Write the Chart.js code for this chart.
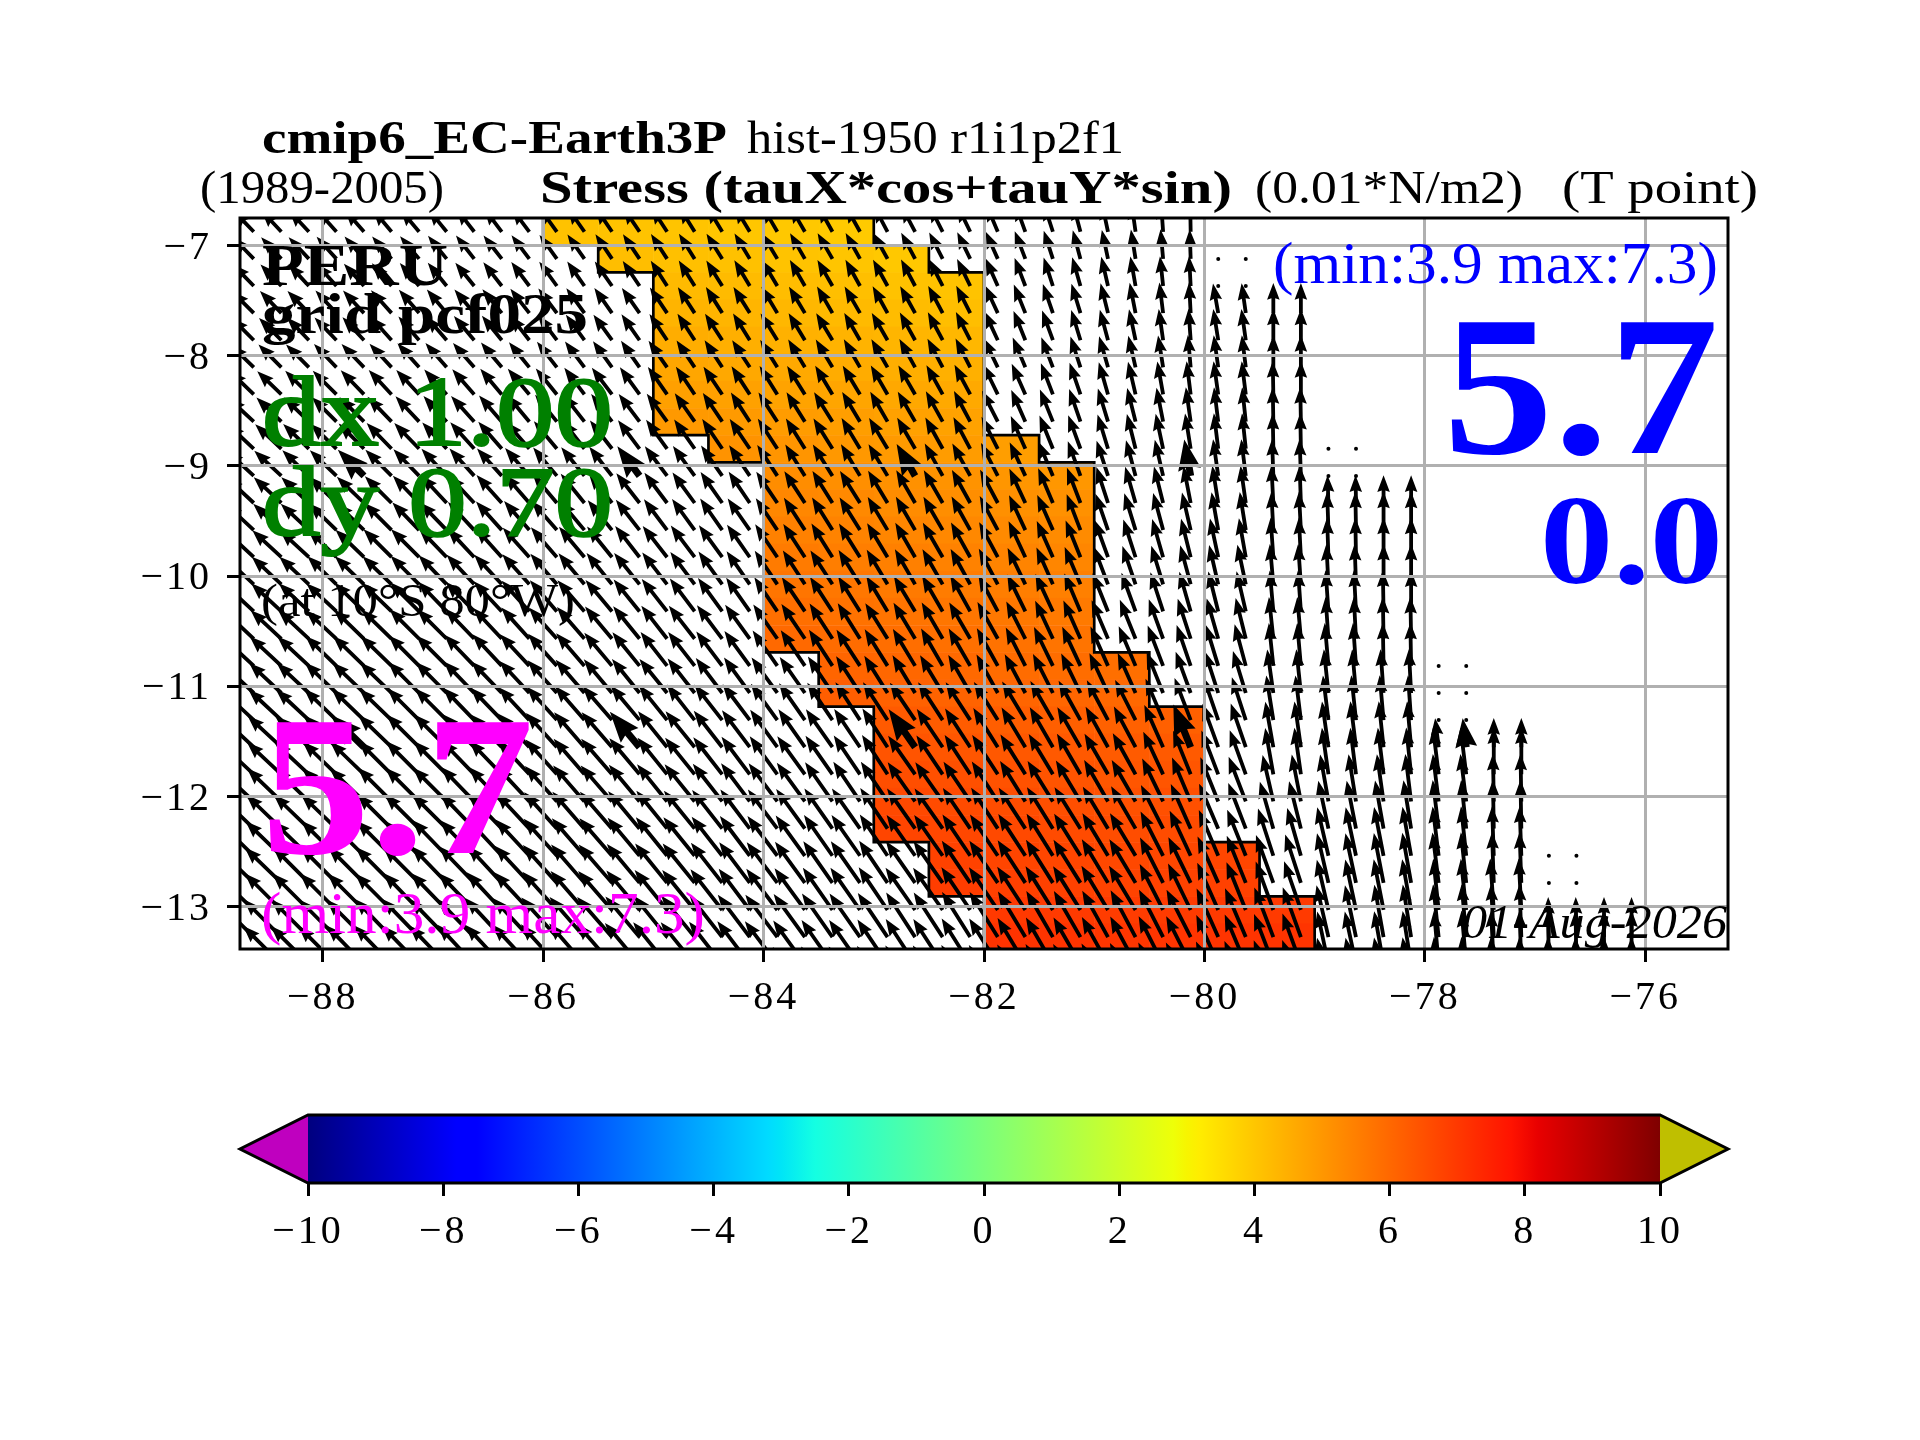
<!DOCTYPE html>
<html>
<head>
<meta charset="utf-8">
<title>PERU stress</title>
<script src="https://cdn.jsdelivr.net/npm/chart.js@4"></script>
<style>
    html, body { margin: 0; background: #fff; }
    #wrap { position: relative; width: 1920px; height: 1440px; overflow: hidden; }
    canvas { position: absolute; left: 0; }
    #mapChart { top: 0; }
    #barChart { top: 1100px; }
</style>
</head>
<body>
<div id="wrap">
    <canvas id="mapChart" width="1920" height="1440"></canvas>
    <canvas id="barChart" width="1920" height="200"></canvas>
</div>
<script>
// axis ticks
const lonTicks = [-88, -86, -84, -82, -80, -78, -76];
const latTicks = [-7, -8, -9, -10, -11, -12, -13];
const barTicks = [-10, -8, -6, -4, -2, 0, 2, 4, 6, 8, 10];

// arrow grid
const arrowLons = [-88.625, -88.375, -88.125, -87.875, -87.625, -87.375, -87.125, -86.875, -86.625, -86.375,
    -86.125, -85.875, -85.625, -85.375, -85.125, -84.875, -84.625, -84.375, -84.125, -83.875,
    -83.625, -83.375, -83.125, -82.875, -82.625, -82.375, -82.125, -81.875, -81.625, -81.375,
    -81.125, -80.875, -80.625, -80.375, -80.125, -79.875, -79.625, -79.375, -79.125, -78.875,
    -78.625, -78.375, -78.125, -77.875, -77.625, -77.375, -77.125, -76.875, -76.625, -76.375, -76.125];
const arrowLats = [-6.875, -7.121, -7.367, -7.613, -7.859, -8.105, -8.351, -8.598, -8.844, -9.09,
    -9.336, -9.582, -9.828, -10.074, -10.32, -10.568, -10.814, -11.06, -11.306, -11.552,
    -11.798, -12.044, -12.291, -12.537, -12.783, -13.029, -13.275, -13.521, -13.767];

// magnitude per row of the arrow grid
const rowMagnitude = [3.8, 3.85, 3.9, 4.0, 4.1, 4.2, 4.35, 4.5, 4.65, 4.8, 4.9, 5.0, 5.15, 5.25, 5.35,
    5.45, 5.6, 5.7, 5.85, 6.0, 6.1, 6.2, 6.35, 6.45, 6.6, 6.7, 6.9, 7.0, 7.1];

// arrow heading in degrees from north, one row per latitude (west is negative)
const arrowHeading = [
    [-44,-43,-43,-42,-41,-40,-40,-39,-38,-37,-37,-36,-35,-34,-34,-33,-32,-31,-31,-30,-30,-29,-29,-28,-28,-27,-26,-23,-20,-18,-15,-12,-8,-4,-1],
    [-44,-43,-43,-42,-41,-41,-40,-39,-38,-38,-37,-36,-35,-34,-34,-33,-32,-32,-31,-31,-30,-30,-29,-29,-28,-27,-26,-24,-21,-18,-15,-12,-9,-5,-2],
    [-44,-44,-43,-42,-42,-41,-40,-39,-39,-38,-37,-36,-35,-35,-34,-33,-32,-32,-31,-31,-30,-30,-29,-29,-28,-27,-26,-24,-21,-18,-16,-13,-10,-6,-3],
    [-45,-44,-44,-43,-43,-42,-41,-40,-40,-39,-38,-37,-36,-35,-35,-34,-33,-32,-32,-31,-31,-30,-30,-29,-29,-28,-27,-25,-22,-19,-17,-14,-11,-7,-3,-10,-8,0,0],
    [-45,-45,-44,-44,-43,-42,-41,-41,-40,-39,-38,-37,-36,-36,-35,-34,-33,-33,-32,-32,-31,-31,-30,-30,-29,-28,-27,-25,-22,-20,-17,-15,-12,-8,-4,-9,-8,0,0],
    [-46,-45,-45,-44,-44,-43,-42,-41,-41,-40,-39,-38,-37,-36,-35,-35,-34,-33,-33,-32,-31,-31,-30,-30,-29,-28,-27,-26,-23,-21,-18,-16,-13,-9,-5,-8,-7,0,0],
    [-46,-46,-45,-45,-44,-43,-43,-42,-41,-40,-40,-39,-37,-37,-36,-35,-34,-34,-33,-32,-32,-31,-31,-30,-30,-29,-28,-26,-24,-21,-19,-16,-13,-10,-7,-8,-7,-1,0],
    [-47,-46,-46,-45,-45,-44,-43,-42,-42,-41,-40,-39,-38,-37,-37,-36,-35,-34,-33,-33,-32,-32,-31,-30,-30,-29,-28,-27,-24,-22,-19,-17,-14,-11,-8,-7,-6,-1,-1],
    [-47,-47,-46,-46,-45,-44,-44,-43,-42,-41,-41,-40,-38,-38,-37,-36,-35,-34,-34,-33,-32,-32,-31,-31,-30,-29,-28,-27,-24,-22,-20,-17,-14,-12,-9,-7,-6,-1,-1],
    [-47,-47,-46,-46,-45,-45,-44,-43,-42,-42,-41,-40,-39,-38,-37,-37,-36,-35,-34,-33,-32,-32,-31,-31,-30,-29,-29,-27,-25,-23,-20,-18,-15,-13,-10,-8,-7,-2,-2],
    [-47,-47,-47,-46,-46,-45,-44,-43,-43,-42,-41,-40,-39,-38,-38,-37,-36,-35,-34,-34,-33,-32,-32,-31,-30,-30,-29,-28,-25,-23,-21,-18,-16,-14,-11,-9,-8,-3,-2,-2,-1,0,0],
    [-47,-47,-47,-46,-46,-45,-44,-44,-43,-42,-41,-41,-40,-39,-38,-37,-36,-35,-35,-34,-33,-32,-32,-31,-30,-30,-29,-28,-25,-24,-21,-19,-17,-15,-13,-10,-9,-3,-3,-2,-1,0,0],
    [-47,-47,-47,-46,-46,-45,-45,-44,-43,-42,-42,-41,-40,-39,-38,-38,-37,-36,-35,-34,-33,-32,-32,-31,-30,-30,-29,-28,-25,-24,-22,-20,-18,-16,-14,-12,-10,-4,-3,-2,-1,0,0],
    [-47,-47,-47,-46,-46,-46,-45,-44,-43,-43,-42,-41,-40,-39,-39,-38,-37,-36,-35,-34,-33,-33,-32,-31,-30,-30,-29,-28,-26,-24,-23,-21,-19,-17,-15,-13,-12,-5,-4,-3,-2,0,0],
    [-47,-47,-47,-47,-46,-46,-45,-44,-44,-43,-42,-41,-41,-40,-39,-38,-37,-36,-35,-34,-34,-33,-32,-31,-31,-30,-29,-28,-26,-25,-23,-22,-20,-18,-16,-14,-13,-5,-4,-4,-3,-1,0],
    [-47,-47,-47,-47,-46,-46,-45,-45,-44,-43,-42,-42,-41,-40,-39,-38,-38,-37,-36,-35,-34,-33,-32,-32,-31,-30,-30,-29,-27,-25,-24,-23,-22,-20,-18,-16,-14,-6,-5,-4,-3,-1,-1],
    [-47,-47,-47,-46,-46,-46,-45,-45,-44,-43,-43,-42,-41,-40,-39,-38,-38,-37,-36,-35,-34,-33,-33,-32,-31,-30,-30,-29,-27,-26,-25,-24,-23,-21,-19,-17,-15,-6,-5,-5,-4,-1,-1],
    [-47,-47,-47,-46,-46,-46,-45,-45,-44,-44,-43,-42,-41,-40,-39,-39,-38,-37,-36,-36,-35,-34,-33,-32,-31,-31,-30,-29,-28,-27,-26,-25,-24,-22,-20,-18,-17,-8,-6,-6,-5,-4,-3],
    [-47,-47,-47,-46,-46,-46,-45,-45,-44,-44,-43,-42,-41,-41,-40,-39,-38,-38,-37,-36,-35,-34,-33,-33,-34,-33,-33,-32,-31,-30,-29,-28,-27,-23,-21,-19,-18,-9,-7,-7,-6,-5,-4],
    [-47,-47,-47,-46,-46,-46,-45,-45,-44,-44,-43,-42,-41,-41,-40,-39,-39,-38,-37,-36,-35,-35,-34,-33,-35,-34,-33,-32,-31,-30,-30,-29,-28,-24,-22,-20,-19,-10,-8,-8,-7,-6,-5,-7,-7,0,0],
    [-47,-47,-47,-46,-46,-45,-45,-45,-44,-44,-43,-42,-41,-41,-40,-39,-39,-38,-37,-36,-36,-35,-34,-33,-35,-34,-33,-33,-32,-31,-30,-30,-29,-25,-22,-21,-20,-10,-8,-8,-7,-7,-6,-7,-7,0,0],
    [-47,-46,-46,-46,-46,-45,-45,-45,-44,-44,-43,-42,-41,-41,-40,-39,-39,-38,-37,-37,-36,-35,-34,-34,-35,-35,-34,-33,-32,-32,-31,-30,-30,-26,-23,-22,-21,-13,-11,-10,-9,-8,-7,-7,-7,-1,-1],
    [-46,-46,-46,-46,-45,-45,-45,-45,-44,-44,-43,-42,-41,-41,-40,-39,-39,-38,-37,-37,-36,-35,-35,-34,-35,-35,-34,-33,-33,-32,-32,-31,-30,-27,-24,-23,-21,-16,-14,-12,-11,-10,-9,-7,-6,-1,-1],
    [-46,-46,-46,-45,-45,-45,-45,-44,-44,-43,-43,-42,-41,-41,-40,-39,-39,-38,-37,-37,-36,-35,-35,-34,-35,-35,-34,-34,-33,-32,-32,-31,-31,-27,-25,-23,-22,-18,-16,-13,-12,-11,-10,-7,-6,-2,-2],
    [-46,-46,-45,-45,-45,-45,-45,-44,-44,-43,-43,-42,-41,-41,-40,-39,-39,-38,-37,-37,-36,-35,-35,-34,-35,-35,-34,-34,-33,-32,-32,-31,-31,-27,-26,-24,-22,-20,-18,-13,-12,-11,-10,-7,-6,-2,-2],
    [-46,-45,-45,-45,-45,-45,-44,-44,-44,-43,-43,-42,-41,-41,-40,-39,-39,-38,-37,-37,-36,-35,-35,-34,-35,-35,-34,-34,-33,-32,-32,-31,-31,-27,-26,-24,-22,-20,-19,-13,-12,-11,-10,-6,-6,-4,-3],
    [-45,-45,-45,-45,-45,-44,-44,-44,-44,-43,-43,-42,-41,-41,-40,-39,-39,-38,-37,-37,-36,-35,-35,-34,-33,-33,-32,-32,-31,-30,-30,-29,-28,-27,-27,-24,-23,-21,-20,-13,-12,-10,-9,-6,-5,-3,-2,-1,-1,0,0],
    [-45,-45,-45,-45,-44,-44,-44,-44,-43,-43,-43,-42,-41,-41,-40,-39,-39,-38,-37,-37,-36,-35,-35,-34,-33,-33,-32,-32,-31,-30,-30,-29,-28,-27,-27,-24,-23,-21,-20,-12,-12,-10,-9,-5,-5,-3,-2,-1,-1,0,0],
    [-45,-45,-45,-44,-44,-44,-44,-44,-43,-43,-42,-42,-41,-41,-40,-39,-39,-38,-37,-37,-36,-35,-35,-34,-33,-33,-32,-32,-31,-30,-30,-29,-28,-27,-27,-24,-23,-21,-20,-12,-11,-10,-9,-5,-5,-3,-2,-1,-1,0,0]
];

// first arrow of the columns along the coast is shorter
const coastCols = [35, 36, 37, 38, 39, 40, 41, 42, 43, 44, 45, 46, 47, 48, 49, 50];
const coastRows = [3, 3, 3, 3, 10, 10, 10, 10, 19, 19, 19, 19, 26, 26, 26, 26];
const coastMagnitude = [3.9, 3.9, 3.9, 3.9, 3.6, 3.6, 3.6, 3.6, 3.8, 3.8, 3.8, 3.8, 5.2, 5.2, 5.2, 5.2];

// the heavier arrows
const heavyRows = [9, 19];
const heavyCols = [4, 14, 24, 34, 44];

// near zero vectors, shown as dots
const dotLons = [-79.875, -79.625, -79.875, -79.625, -78.875, -78.625, -78.875, -78.625,
    -77.875, -77.625, -77.875, -77.625, -77.875, -77.625, -76.875, -76.625, -76.875, -76.625];
const dotLats = [-7.121, -7.121, -7.367, -7.367, -8.844, -8.844, -9.09, -9.09,
    -10.814, -10.814, -11.06, -11.06, -11.306, -11.306, -12.537, -12.537, -12.783, -12.783];

// coloured cells: columns of 0.5 degree, rows of the arrow grid down to the frame
const cellLons = [-86, -85.5, -85, -84.5, -84, -83.5, -83, -82.5, -82, -81.5, -81, -80.5, -80, -79.5];
const cellValues = [
    [4.10, 4.07, 4.04, 4.01, 3.97, 3.92],
    [null, 4.17, 4.14, 4.11, 4.07, 4.02, 3.97],
    [null, null, 4.27, 4.24, 4.20, 4.15, 4.10, 4.06],
    [null, null, 4.39, 4.36, 4.32, 4.27, 4.22, 4.18],
    [null, null, 4.53, 4.50, 4.46, 4.41, 4.36, 4.32],
    [null, null, 4.68, 4.65, 4.61, 4.56, 4.51, 4.47],
    [null, null, 4.82, 4.79, 4.75, 4.70, 4.65, 4.61],
    [null, null, 4.97, 4.94, 4.90, 4.85, 4.80, 4.76],
    [null, null, null, 5.08, 5.04, 4.99, 4.94, 4.90, 4.85],
    [null, null, null, null, 5.22, 5.17, 5.12, 5.08, 5.03, 5.00],
    [null, null, null, null, 5.34, 5.29, 5.24, 5.20, 5.15, 5.12],
    [null, null, null, null, 5.47, 5.42, 5.37, 5.33, 5.28, 5.25],
    [null, null, null, null, 5.59, 5.54, 5.49, 5.45, 5.40, 5.37],
    [null, null, null, null, 5.72, 5.67, 5.62, 5.58, 5.53, 5.50],
    [null, null, null, null, 5.84, 5.79, 5.74, 5.70, 5.65, 5.62],
    [null, null, null, null, 5.97, 5.92, 5.87, 5.83, 5.78, 5.75],
    [null, null, null, null, null, 6.06, 6.01, 5.97, 5.92, 5.89, 5.85],
    [null, null, null, null, null, 6.20, 6.15, 6.11, 6.06, 6.03, 5.99],
    [null, null, null, null, null, null, 6.30, 6.26, 6.21, 6.18, 6.14, 6.16],
    [null, null, null, null, null, null, 6.43, 6.39, 6.34, 6.31, 6.27, 6.29],
    [null, null, null, null, null, null, 6.55, 6.51, 6.46, 6.43, 6.39, 6.41],
    [null, null, null, null, null, null, 6.65, 6.61, 6.56, 6.53, 6.49, 6.51],
    [null, null, null, null, null, null, 6.74, 6.70, 6.65, 6.62, 6.58, 6.60],
    [null, null, null, null, null, null, null, 6.80, 6.75, 6.72, 6.68, 6.70, 6.72],
    [null, null, null, null, null, null, null, 6.90, 6.85, 6.82, 6.78, 6.80, 6.82],
    [null, null, null, null, null, null, null, null, 7.00, 6.97, 6.93, 6.95, 6.97, 6.97],
    [null, null, null, null, null, null, null, null, 7.12, 7.09, 7.05, 7.07, 7.09, 7.09]
];

// outline of the coloured area
const westEdgeLons = [-86, -86, -85.5, -85.5, -85, -85, -84.5, -84.5, -84, -84, -83.5, -83.5, -83, -83, -82.5, -82.5, -82, -82];
const westEdgeLats = [-6.75, -6.998, -6.998, -7.244, -7.244, -8.721, -8.721, -8.967, -8.967, -10.691, -10.691, -11.183, -11.183, -12.414, -12.414, -12.906, -12.906, -13.383];
const eastEdgeLons = [-83, -83, -82.5, -82.5, -82, -82, -81.5, -81.5, -81, -81, -80.5, -80.5, -80, -80, -79.5, -79.5, -79, -79];
const eastEdgeLats = [-6.75, -6.998, -6.998, -7.244, -7.244, -8.721, -8.721, -8.967, -8.967, -10.691, -10.691, -11.183, -11.183, -12.414, -12.414, -12.906, -12.906, -13.383];

// jet colormap
const cmapStops = [0, 0.11, 0.125, 0.34, 0.35, 0.375, 0.64, 0.65, 0.66, 0.89, 0.91, 1];
const cmapColors = ['#00007f', '#0000ff', '#0000ff', '#00dbff', '#00e5f7', '#14ffe2', '#eeff08', '#f7f500', '#ffec00', '#ff1300', '#e80000', '#7f0000'];

const SERIF = '"Liberation Serif", serif';
const ROW_HALF = 0.123;
const PX_PER_UNIT = 7.7;
const AXIS_LW = 3;

const mapTexts = [
    { t: 'cmip6_EC-Earth3P', x: 262, y: 153, w: 465, font: 'bold 47px ' + SERIF, c: '#000' },
    { t: 'hist-1950 r1i1p2f1', x: 747, y: 153, w: 377, font: '47px ' + SERIF, c: '#000' },
    { t: '(1989-2005)', x: 200, y: 203, w: 244, font: '47px ' + SERIF, c: '#000' },
    { t: 'Stress (tauX*cos+tauY*sin)', x: 540, y: 203, w: 692, font: 'bold 47px ' + SERIF, c: '#000' },
    { t: '(0.01*N/m2)', x: 1255, y: 203, w: 268, font: '47px ' + SERIF, c: '#000' },
    { t: '(T point)', x: 1562, y: 203, w: 196, font: '47px ' + SERIF, c: '#000' },
    { t: 'PERU', x: 262, y: 285, w: 186, font: 'bold 60px ' + SERIF, c: '#000' },
    { t: 'grid pcf025', x: 262, y: 333, w: 326, font: 'bold 58px ' + SERIF, c: '#000' },
    { t: 'dx 1.00', x: 262, y: 445, w: 351, font: '100px ' + SERIF, c: '#008000', heavy: 2 },
    { t: 'dy 0.70', x: 262, y: 535, w: 351, font: '100px ' + SERIF, c: '#008000', heavy: 2 },
    { t: '(at 10°S 80°W)', x: 261, y: 616, w: 314, font: '46px ' + SERIF, c: '#000' },
    { t: '5.7', x: 261, y: 853, w: 273, font: 'bold 200px ' + SERIF, c: '#ff00ff' },
    { t: '(min:3.9 max:7.3)', x: 261, y: 933, w: 444, font: '59px ' + SERIF, c: '#ff00ff' },
    { t: '(min:3.9 max:7.3)', x: 1273, y: 283, w: 445, font: '59px ' + SERIF, c: '#0000ff' },
    { t: '5.7', x: 1443, y: 453, w: 276, font: 'bold 200px ' + SERIF, c: '#0000ff' },
    { t: '0.0', x: 1540, y: 583, w: 183, font: 'bold 128px ' + SERIF, c: '#0000ff' },
    { t: '01-Aug-2026', x: 1462, y: 938, w: 265, font: 'italic 48px ' + SERIF, c: '#000' }
];

function hexToRgb(hex) {
    return [1, 3, 5].map(i => parseInt(hex.substr(i, 2), 16));
}

function jetColor(value) {
    const t = (value + 10) / 20;
    let i = 0;
    while (i < cmapStops.length - 2 && t > cmapStops[i + 1]) i++;
    const f = (t - cmapStops[i]) / (cmapStops[i + 1] - cmapStops[i]);
    const a = hexToRgb(cmapColors[i]), b = hexToRgb(cmapColors[i + 1]);
    const rgb = a.map((v, j) => Math.round(v + (b[j] - v) * f));
    return `rgb(${rgb[0]},${rgb[1]},${rgb[2]})`;
}

function buildArrowPoints() {
    const points = [];
    arrowHeading.forEach((row, r) => {
        row.forEach((heading, c) => {
            if (heading === null) return;
            const coast = coastCols.indexOf(c);
            const magnitude = coast >= 0 && coastRows[coast] === r ? coastMagnitude[coast] : rowMagnitude[r];
            points.push({
                x: arrowLons[c], y: arrowLats[r], heading, magnitude,
                heavy: heavyRows.includes(r) && heavyCols.includes(c)
            });
        });
    });
    // heavy ones on top
    return points.sort((a, b) => a.heavy - b.heavy);
}

function drawArrow(ctx, x, y, len, heading, w) {
    const a = heading * Math.PI / 180;
    const ux = Math.sin(a), uy = -Math.cos(a);
    const nx = -uy, ny = ux;
    const k = Math.min(1, len / (4.4 * w));
    const hl = 4.4 * w * k, hal = 4 * w * k, hw = 1.65 * w * k, sw = w / 2;
    const pt = (along, side) => [x + ux * along + nx * side, y + uy * along + ny * side];
    const poly = [pt(0, -sw), pt(len - hal, -sw), pt(len - hl, -hw), pt(len, 0), pt(len - hl, hw), pt(len - hal, sw), pt(0, sw)];
    ctx.beginPath();
    poly.forEach((p, i) => i ? ctx.lineTo(p[0], p[1]) : ctx.moveTo(p[0], p[1]));
    ctx.closePath();
    ctx.fill();
}

const cellPlugin = {
    id: 'cells',
    beforeDatasetsDraw(chart) {
        const { ctx, chartArea: area, scales: { x, y } } = chart;
        ctx.save();
        ctx.beginPath();
        ctx.rect(area.left, area.top, area.width, area.height);
        ctx.clip();
        cellValues.forEach((row, r) => {
            row.forEach((value, c) => {
                if (value === null) return;
                const x0 = x.getPixelForValue(cellLons[c]);
                const x1 = x.getPixelForValue(cellLons[c] + 0.5);
                const y0 = y.getPixelForValue(arrowLats[r] + ROW_HALF);
                const y1 = y.getPixelForValue(arrowLats[r] - ROW_HALF);
                ctx.fillStyle = jetColor(value);
                ctx.fillRect(x0, y0, x1 - x0 + 0.5, y1 - y0 + 0.5);
            });
        });
        ctx.restore();
    }
};

const quiverPlugin = {
    id: 'quiver',
    afterDatasetsDraw(chart) {
        const { ctx, chartArea: area } = chart;
        const meta = chart.getDatasetMeta(0);
        const raw = chart.data.datasets[0].data;
        ctx.save();
        ctx.beginPath();
        ctx.rect(area.left, area.top, area.width, area.height);
        ctx.clip();
        ctx.fillStyle = '#000';
        meta.data.forEach((el, i) => {
            const p = raw[i];
            drawArrow(ctx, el.x, el.y, p.magnitude * PX_PER_UNIT, p.heading, p.heavy ? 7 : 3.8);
        });
        ctx.restore();
    }
};

const spacingPlugin = {
    id: 'tickSpacing',
    beforeDraw(chart) {
        chart.ctx.letterSpacing = '3px';
    }
};

const framePlugin = {
    id: 'frame',
    afterDraw(chart) {
        const { ctx, chartArea: area } = chart;
        ctx.save();
        ctx.strokeStyle = '#000';
        ctx.lineWidth = AXIS_LW;
        ctx.strokeRect(area.left, area.top, area.width, area.height);
        ctx.letterSpacing = '0px';
        ctx.textAlign = 'left';
        ctx.textBaseline = 'alphabetic';
        mapTexts.forEach(item => {
            ctx.font = item.font;
            const natural = ctx.measureText(item.t).width;
            ctx.save();
            ctx.translate(item.x, item.y);
            ctx.scale(item.w / natural, 1);
            ctx.fillStyle = item.c;
            ctx.fillText(item.t, 0, 0);
            if (item.heavy) {
                ctx.strokeStyle = item.c;
                ctx.lineWidth = item.heavy;
                ctx.strokeText(item.t, 0, 0);
            }
            ctx.restore();
        });
        ctx.restore();
    }
};

const barOutlinePlugin = {
    id: 'barOutline',
    afterDraw(chart) {
        const { ctx, chartArea: area, scales: { x } } = chart;
        const x0 = x.getPixelForValue(-10), x1 = x.getPixelForValue(10);
        const mid = (area.top + area.bottom) / 2;
        const tip = 68;
        ctx.save();
        ctx.lineWidth = AXIS_LW;
        ctx.strokeStyle = '#000';
        ctx.fillStyle = '#bf00bf';
        ctx.beginPath();
        ctx.moveTo(x0, area.top); ctx.lineTo(x0 - tip, mid); ctx.lineTo(x0, area.bottom); ctx.closePath();
        ctx.fill();
        ctx.fillStyle = '#bfbf00';
        ctx.beginPath();
        ctx.moveTo(x1, area.top); ctx.lineTo(x1 + tip, mid); ctx.lineTo(x1, area.bottom); ctx.closePath();
        ctx.fill();
        ctx.beginPath();
        ctx.moveTo(x0, area.top); ctx.lineTo(x1, area.top); ctx.lineTo(x1 + tip, mid);
        ctx.lineTo(x1, area.bottom); ctx.lineTo(x0, area.bottom); ctx.lineTo(x0 - tip, mid);
        ctx.closePath();
        ctx.stroke();
        ctx.restore();
    }
};

const tickLabel = v => String(v).replace('-', '\u2212');
// empty first line pushes the label down to sit level with its tick
const latTickLabel = v => ['', tickLabel(v)];

function createMapChart() {
    const lineData = (lons, lats) => lons.map((lon, i) => ({ x: lon, y: lats[i] }));
    const edge = data => ({
        type: 'scatter', data, showLine: true, tension: 0, pointRadius: 0,
        borderColor: '#000', borderWidth: 2.7, fill: false
    });
    return new Chart(document.getElementById('mapChart'), {
        type: 'scatter',
        data: {
            datasets: [
                { label: 'stress', data: buildArrowPoints(), pointRadius: 0 },
                { label: 'masked', data: lineData(dotLons, dotLats), pointRadius: 2, backgroundColor: '#000', borderWidth: 0 },
                edge(lineData(westEdgeLons, westEdgeLats)),
                edge(lineData(eastEdgeLons, eastEdgeLats))
            ]
        },
        options: {
            responsive: false,
            devicePixelRatio: 1,
            animation: false,
            layout: { padding: { top: 218, right: 192, left: 0, bottom: 0 } },
            plugins: { legend: { display: false }, tooltip: { enabled: false } },
            scales: {
                x: {
                    type: 'linear', min: -88.75, max: -75.25,
                    afterBuildTicks: axis => { axis.ticks = lonTicks.map(value => ({ value })); },
                    afterFit: axis => { axis.height = 491; },
                    border: { display: false },
                    grid: { color: '#b0b0b0', lineWidth: AXIS_LW, z: 1, tickColor: '#000', tickWidth: AXIS_LW, tickLength: 13 },
                    ticks: {
                        callback: tickLabel, autoSkip: false, maxRotation: 0, color: '#000', padding: 12,
                        font: { family: SERIF, size: 40 }
                    }
                },
                y: {
                    type: 'linear', min: -13.383, max: -6.75,
                    afterBuildTicks: axis => { axis.ticks = latTicks.map(value => ({ value })); },
                    afterFit: axis => { axis.width = 240; },
                    border: { display: false },
                    grid: { color: '#b0b0b0', lineWidth: AXIS_LW, z: 1, tickColor: '#000', tickWidth: AXIS_LW, tickLength: 13 },
                    ticks: {
                        callback: latTickLabel, autoSkip: false, color: '#000', padding: 15,
                        font: { family: SERIF, size: 40, lineHeight: '5px' }
                    }
                }
            }
        },
        plugins: [spacingPlugin, cellPlugin, quiverPlugin, framePlugin]
    });
}

function createBarChart() {
    return new Chart(document.getElementById('barChart'), {
        type: 'bar',
        data: {
            labels: ['stress'],
            datasets: [{
                data: [[-10, 10]],
                barPercentage: 1,
                categoryPercentage: 1,
                borderWidth: 0,
                backgroundColor: context => {
                    const chart = context.chart;
                    if (!chart.chartArea) return '#000';
                    const x = chart.scales.x;
                    const g = chart.ctx.createLinearGradient(x.getPixelForValue(-10), 0, x.getPixelForValue(10), 0);
                    cmapStops.forEach((s, i) => g.addColorStop(s, cmapColors[i]));
                    return g;
                }
            }]
        },
        options: {
            indexAxis: 'y',
            responsive: false,
            devicePixelRatio: 1,
            animation: false,
            layout: { padding: { top: 15, right: 260, left: 308, bottom: 0 } },
            plugins: { legend: { display: false }, tooltip: { enabled: false } },
            scales: {
                y: { display: false },
                x: {
                    type: 'linear', min: -10, max: 10,
                    afterBuildTicks: axis => { axis.ticks = barTicks.map(value => ({ value })); },
                    afterFit: axis => { axis.height = 117; },
                    border: { display: false },
                    grid: { drawOnChartArea: false, tickColor: '#000', tickWidth: AXIS_LW, tickLength: 13 },
                    ticks: {
                        callback: tickLabel, autoSkip: false, maxRotation: 0, color: '#000', padding: 12,
                        font: { family: SERIF, size: 40 }
                    }
                }
            }
        },
        plugins: [spacingPlugin, barOutlinePlugin]
    });
}

createMapChart();
createBarChart();
</script>
</body>
</html>
